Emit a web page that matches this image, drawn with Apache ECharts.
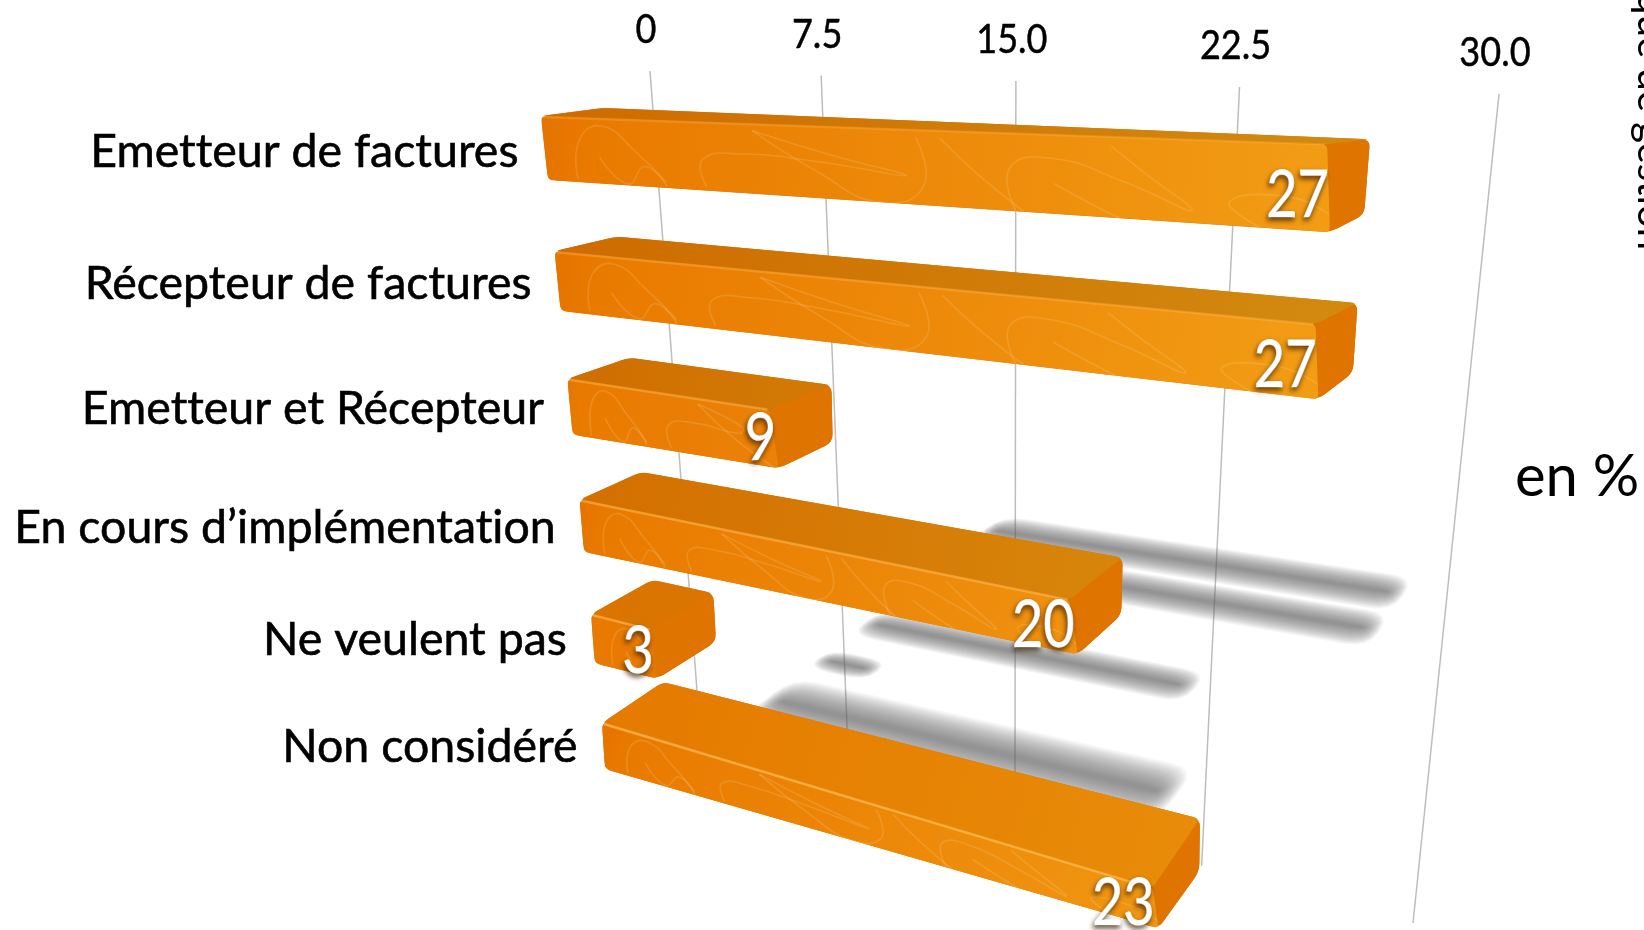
<!DOCTYPE html>
<html>
<head>
<meta charset="utf-8">
<title>en %</title>
<style>
  html, body { margin: 0; padding: 0; background: #fff; overflow: hidden; }
  #chart { width: 1644px; height: 930px; }
</style>
<script src="https://cdn.jsdelivr.net/npm/echarts@6/dist/echarts.min.js"></script>
</head>
<body>
<div id="chart"></div>
<script>
const categories = ['Emetteur de factures', 'Récepteur de factures', 'Emetteur et Récepteur', 'En cours d’implémentation', 'Ne veulent pas', 'Non considéré']
const percentValues = [27, 27, 9, 20, 3, 23]
const xTicks = [0, 7.5, 15, 22.5, 30]
const xTickLabels = ['0', '7.5', '15.0', '22.5', '30.0']
const unitLabel = 'en %'
const cutTitle = 'Politique de gestion'

const FONT = 'Lato, "Open Sans", sans-serif'
const W = 1644
const H = 930

// the slide is in perspective: each plane is a quad [top-left, top-right, bottom-right, bottom-left]
// that takes the flat grid (value, category) to the screen
const gridPlane = quad([[650, 71], [1499, 94], [1413, 923], [700, 730]])
const frontTop = quad([[541, 116], [1450, 149], [1377, 955], [602, 723]])
const frontBottom = quad([[548, 180], [1447, 240], [1376, 991], [605, 769]])
const backTop = quad([[603, 108], [1484, 144], [1409, 872], [663, 682]])
const backBottom = quad([[608, 171], [1477, 221], [1408, 928], [666, 727]])
const shadowPlane = quad([[992, 530], [1447, 601], [1310, 827], [775, 700]])
// half thickness of each shadow, in category steps
const shadowWidths = [0.26, 0.24, 0.2, 0.19, 0.13, 0.27]

// faint scribbles of the bar texture, (share of bar length, share of face height)
const scribbles = [
  [[0.05, 0.95], [0.06, 0.35], [0.1, 0.12], [0.15, 0.5], [0.19, 0.92]],
  [[0.09, 0.6], [0.13, 0.98], [0.16, 0.7], [0.19, 0.98]],
  [[0.25, 0.95], [0.25, 0.55], [0.31, 0.44], [0.42, 0.5], [0.53, 0.62], [0.43, 0.38], [0.33, 0.1]],
  [[0.33, 0.1], [0.41, 0.62], [0.49, 1], [0.55, 0.75], [0.55, 0.1]],
  [[0.58, 0.1], [0.62, 0.55], [0.67, 1]],
  [[0.66, 1], [0.66, 0.45], [0.71, 0.3], [0.79, 0.55], [0.86, 0.85], [0.81, 0.4], [0.78, 0.12]],
  [[0.71, 0.62], [0.75, 0.85], [0.78, 1]],
  [[0.93, 1], [0.9, 0.72], [0.96, 0.62], [1, 0.8]],
]

function quad(p) {
  const [p0, p1, p2, p3] = p
  const dx1 = p1[0] - p2[0]
  const dx2 = p3[0] - p2[0]
  const sx = p0[0] - p1[0] + p2[0] - p3[0]
  const dy1 = p1[1] - p2[1]
  const dy2 = p3[1] - p2[1]
  const sy = p0[1] - p1[1] + p2[1] - p3[1]
  const den = dx1 * dy2 - dx2 * dy1
  const g = (sx * dy2 - dx2 * sy) / den
  const h = (dx1 * sy - sx * dy1) / den
  return {
    a: p1[0] - p0[0] + g * p1[0],
    b: p3[0] - p0[0] + h * p3[0],
    c: p0[0],
    d: p1[1] - p0[1] + g * p1[1],
    e: p3[1] - p0[1] + h * p3[1],
    f: p0[1],
    g,
    h,
  }
}

// flat pixel from the hidden grid -> perspective pixel on one plane
function warp(m, flat) {
  const u = flat[0] / W
  const v = flat[1] / H
  const w = m.g * u + m.h * v + 1
  return [(m.a * u + m.b * v + m.c) / w, (m.d * u + m.e * v + m.f) / w]
}

function lerp(a, b, t) {
  return [a[0] + (b[0] - a[0]) * t, a[1] + (b[1] - a[1]) * t]
}

// polygon with its corners rounded off
function rounded(points, r) {
  const out = []
  points.forEach((p, i) => {
    const prev = points[(i + points.length - 1) % points.length]
    const next = points[(i + 1) % points.length]
    const d1 = Math.hypot(prev[0] - p[0], prev[1] - p[1])
    const d2 = Math.hypot(next[0] - p[0], next[1] - p[1])
    const a = lerp(p, prev, Math.min(r / d1, 0.45))
    const b = lerp(p, next, Math.min(r / d2, 0.45))
    for (let t = 0; t <= 1; t += 0.25) {
      out.push(lerp(lerp(a, p, t), lerp(p, b, t), t))
    }
  })
  return out
}

function mix(c0, c1, t) {
  return c0.map((c, i) => c + (c1[i] - c) * t)
}

function rgb(c) {
  return 'rgb(' + c.map(Math.round).join(',') + ')'
}

function hGradient(left, right, stops) {
  return new echarts.graphic.LinearGradient(left[0], left[1], right[0], right[1], stops, true)
}

// soft shadow: stacked see-through strips, widest first
function renderShadow(params, api) {
  const i = params.dataIndex
  const step = api.coord([0, 1])[1] - api.coord([0, 0])[1]
  const start = api.coord([0, i])
  const end = api.coord([api.value(0), i])
  const children = []
  const layers = 26
  for (let k = 0; k < layers; k++) {
    const grow = 1.9 - (1.8 * k) / (layers - 1)
    const band = shadowWidths[i] * step * grow
    const ext = 30 * (grow - 0.9)
    const pts = [
      warp(shadowPlane, [start[0] - ext, start[1] - band]),
      warp(shadowPlane, [end[0] + ext, end[1] - band]),
      warp(shadowPlane, [end[0] + ext, end[1] + band]),
      warp(shadowPlane, [start[0] - ext, start[1] + band]),
    ]
    children.push({
      type: 'polygon',
      shape: { points: rounded(pts, 24) },
      style: { fill: 'rgba(110,110,110,0.04)' },
    })
  }
  return { type: 'group', children }
}

function renderTick(params, api) {
  const tick = api.value(0)
  const top = warp(gridPlane, api.coord([tick, 0]))
  const bottom = warp(gridPlane, api.coord([tick, 5]))
  return {
    type: 'group',
    children: [
      {
        type: 'line',
        shape: { x1: top[0], y1: top[1], x2: bottom[0], y2: bottom[1] },
        style: { stroke: '#bdbdbd', lineWidth: 1.5 },
      },
      {
        type: 'text',
        x: top[0] - 4,
        y: top[1] - 41,
        scaleX: 0.88,
        style: {
          text: xTickLabels[params.dataIndex],
          fontFamily: FONT,
          fontSize: 41,
          fill: '#000',
          stroke: '#000',
          lineWidth: 0.5,
          align: 'center',
          verticalAlign: 'middle',
        },
      },
    ],
  }
}

function renderBar(params, api) {
  const i = params.dataIndex
  const value = api.value(0)
  const flat0 = api.coord([0, i])
  const flatV = api.coord([value, i])

  const ft0 = warp(frontTop, flat0)
  const ftV = warp(frontTop, flatV)
  const fb0 = warp(frontBottom, flat0)
  const fbV = warp(frontBottom, flatV)
  const tb0 = warp(backTop, flat0)
  const tbV = warp(backTop, flatV)
  const bbV = warp(backBottom, flatV)

  const share = value / 30
  // top face catches more light lower down the slide
  const light = Math.pow(i / 5, 2.5)
  const topStart = mix([206, 107, 0], [229, 122, 0], light)
  const topEnd = mix(mix([206, 110, 0], [210, 140, 16], share), mix([226, 118, 0], [234, 146, 10], share), light)
  const frontEnd = mix([231, 116, 0], [243, 160, 22], share)
  const children = [
    {
      type: 'polygon',
      shape: { points: rounded([tb0, tbV, bbV, fbV, fb0, ft0], 8) },
      style: { fill: '#d97400' },
    },
    {
      type: 'polygon',
      shape: { points: rounded([tb0, tbV, ftV, ft0], 6) },
      style: { fill: hGradient(ft0, ftV, [{ offset: 0, color: rgb(topStart) }, { offset: 1, color: rgb(topEnd) }]) },
    },
    {
      type: 'polygon',
      shape: { points: rounded([ftV, tbV, bbV, fbV], 8) },
      style: { fill: '#e07400' },
    },
    {
      type: 'polygon',
      shape: { points: rounded([ft0, ftV, fbV, fb0], 5) },
      style: { fill: hGradient(ft0, ftV, [{ offset: 0, color: '#e57300' }, { offset: 0.06, color: '#e97a00' }, { offset: 1, color: rgb(frontEnd) }]) },
    },
  ]

  // the texture is not squeezed on short bars, it gets cut at the end of the bar
  const textureSpan = Math.max(value, 18)
  scribbles.forEach((line) => {
    const pts = line
      .filter(([s]) => s * textureSpan <= value)
      .map(([s, t]) => {
        const flat = [flat0[0] + ((flatV[0] - flat0[0]) * s * textureSpan) / value, flat0[1]]
        return lerp(warp(frontTop, flat), warp(frontBottom, flat), t)
      })
    if (pts.length < 2) {
      return
    }
    children.push({
      type: 'polyline',
      shape: { points: pts, smooth: 0.5 },
      style: { fill: 'none', stroke: 'rgba(255,225,180,0.17)', lineWidth: 1.6 },
    })
  })

  // light edge where the front meets the top
  children.push({
    type: 'line',
    shape: { x1: ft0[0] + 2, y1: ft0[1] + 1, x2: ftV[0] - 2, y2: ftV[1] },
    style: { stroke: 'rgba(255,190,90,' + (0.25 + 0.09 * i) + ')', lineWidth: 2.5 },
  })

  // category name left of the bar, value in the corner of the front face
  const mid = lerp(ft0, fb0, 0.5)
  children.push({
    type: 'text',
    x: mid[0] - 26,
    y: mid[1] + 4 - 0.6 * i,
    scaleX: 1.01,
    style: {
      text: categories[i],
      fontFamily: FONT,
      fontSize: 46,
      fill: '#000',
      stroke: '#000',
      lineWidth: 0.6,
      align: 'right',
      verticalAlign: 'middle',
    },
  })
  const faceHeight = fbV[1] - ftV[1]
  const extra = Math.max(0, faceHeight - 40)
  children.push({
    type: 'text',
    x: fbV[0] - 4 + 0.06 * extra,
    y: fbV[1] + 8 - 0.25 * extra,
    scaleX: 0.83,
    style: {
      text: String(value),
      fontFamily: FONT,
      fontSize: 65,
      fill: '#fff',
      stroke: '#fff',
      lineWidth: 1,
      align: 'right',
      verticalAlign: 'bottom',
      textShadowColor: 'rgba(60,30,0,0.75)',
      textShadowBlur: 5,
      textShadowOffsetX: -1,
      textShadowOffsetY: 3,
    },
  })
  return { type: 'group', children }
}

const chart = echarts.init(document.getElementById('chart'))
chart.setOption({
  animation: false,
  backgroundColor: '#fff',
  grid: { left: 0, right: 0, top: 0, bottom: 0 },
  xAxis: { type: 'value', min: 0, max: 30, interval: 7.5, show: false },
  yAxis: { type: 'category', data: categories, inverse: true, boundaryGap: false, show: false },
  graphic: [
    {
      type: 'text',
      x: 1515,
      y: 477,
      style: { text: unitLabel, fontFamily: FONT, fontSize: 58, fill: '#000', verticalAlign: 'middle' },
    },
    {
      type: 'text',
      x: 1631,
      y: 250,
      rotation: -Math.PI / 2,
      style: { text: cutTitle, fontFamily: FONT, fontSize: 40, fill: '#000', align: 'right', verticalAlign: 'bottom' },
    },
  ],
  series: [
    {
      type: 'custom',
      name: 'ticks',
      coordinateSystem: 'cartesian2d',
      clip: false,
      z: 1,
      data: xTicks.map((t) => [t, 0]),
      renderItem: renderTick,
    },
    {
      type: 'custom',
      name: 'shadows',
      coordinateSystem: 'cartesian2d',
      clip: false,
      z: 2,
      data: percentValues.map((v, i) => [v, i]),
      renderItem: renderShadow,
    },
    {
      type: 'custom',
      name: 'bars',
      coordinateSystem: 'cartesian2d',
      clip: false,
      z: 3,
      data: percentValues.map((v, i) => [v, i]),
      renderItem: renderBar,
    },
  ],
})

// Lato joins tt and ti into ligatures, the slide font does not
const zr = chart.getZr()
zr.refreshImmediately()
document.querySelectorAll('#chart canvas').forEach((c) => {
  c.getContext('2d').fontVariantLigatures = 'none'
  c.getContext('2d').textRendering = 'optimizeSpeed'
})
zr.painter.refresh(true)
</script>
</body>
</html>
